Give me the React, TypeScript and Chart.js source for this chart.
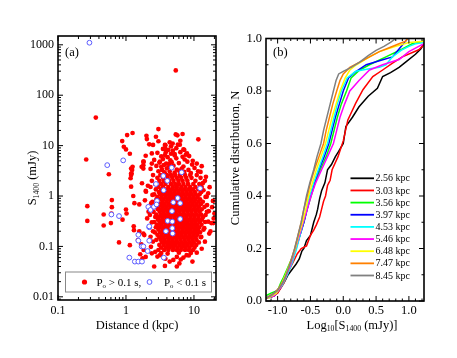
import React, { useEffect, useRef } from 'react';
import { Chart, registerables } from 'chart.js';
Chart.register(...registerables);

const FONT = '"Liberation Serif", "Times New Roman", Times, serif';

// ---------- Panel (a): S1400 vs distance ----------
const distTicks = [0.1, 1, 10];
const fluxTicks = [0.01, 0.1, 1, 10, 100, 1000];

// isolated red points [d (kpc), S1400 (mJy)]
const redScattered: [number, number][] = [
  [5.4, 310], [0.36, 36], [0.26, 5.3],
  [1.25, 17.8], [1.04, 16.2], [0.88, 12.3], [0.93, 9.5], [1.0, 8.4], [1.14, 6.9], [1.19, 3.5], [1.19, 2.8], [1.17, 2.25], [0.56, 2.7],
  [3.0, 21.3], [2.0, 15.7], [2.03, 13.5], [2.76, 15], [5.4, 16.7], [5.7, 16], [6.8, 17], [11.6, 13.3],
  [2.5, 10.3], [2.2, 10.6], [3.74, 10.3], [3.8, 8.6], [3.85, 7.4], [3.74, 6.5], [4.86, 11], [6.2, 10.4],
  [4.9, 8], [5.2, 6.8], [7.2, 8.2], [7.6, 6.6], [1.95, 6.3], [2.4, 7.0], [1.8, 4.8], [2.4, 4.4], [3.16, 4.8], [3.3, 3.8], [4.4, 4.4],
  [1.8, 4.1], [1.8, 3.5],
  [3.0, 3.1], [3.7, 2.95], [4.4, 3.05], [5.2, 2.9], [6.1, 3.15], [7.2, 3.0], [9.0, 2.85], [11.5, 3.1],
  [2.3, 3.45], [3.4, 3.3], [4.0, 3.55], [5.6, 3.35], [6.6, 3.5], [8.3, 3.3], [10.2, 3.6],
  [2.8, 3.95], [3.6, 4.1], [4.3, 3.8], [5.0, 4.0], [7.0, 3.85], [9.4, 4.2], [13, 3.9],
  [3.1, 4.6], [3.9, 4.4], [4.7, 4.7], [6.0, 4.5], [8.0, 4.8], [11, 4.4],
  [2.6, 5.2], [3.5, 5.4], [4.5, 5.1], [5.5, 5.6], [7.3, 5.3], [9.6, 5.0],
  [3.3, 6.1], [4.1, 5.9], [5.2, 6.4], [6.8, 6.0], [8.5, 6.2],
  [2.9, 7.2], [4.6, 6.9], [6.3, 7.4], [7.9, 7.0],
  [3.5, 8.6], [4.2, 8.2], [5.5, 8.9], [7.0, 8.4],
  [3.8, 10.2], [4.6, 9.7], [5.8, 10.5],
  [3.0, 12.2], [4.4, 11.6], [6.3, 12.5],
  // left fringe
  [1.21, 2.8], [1.7, 3.8], [1.82, 4.8], [1.97, 1.22], [1.19, 1.53], [1.72, 1.79], [1.3, 0.25], [1.57, 0.2], [1.8, 0.18],
  [1.62, 0.07], [1.82, 0.085], [1.75, 0.058], [1.5, 0.134], [1.14, 0.106], [1.02, 0.45], [1.33, 0.72], [0.89, 0.34],
  [2.15, 0.49], [1.28, 1.0], [1.57, 0.68], [1.95, 1.26], [1.19, 2.6], [1.23, 3.3], [1.31, 0.21], [1.68, 0.11], [1.86, 0.168],
  [2.33, 0.098], [1.95, 0.062], [0.27, 0.63], [0.27, 0.32], [0.47, 0.43], [0.47, 0.26], [0.62, 0.83], [0.62, 0.6],
  [0.61, 0.45], [0.6, 0.29], [0.79, 0.12], [1.0, 0.54], [1.25, 3.8], [2.05, 0.36], [1.9, 0.82], [2.1, 1.6],
  [2.35, 0.72], [2.4, 0.3], [2.3, 0.155], [2.45, 1.05], [2.25, 0.42], [2.5, 0.2], [2.38, 0.58], [2.5, 0.125],
  // bottom
  [3.74, 0.041], [6.1, 0.046], [4.97, 0.054], [7.8, 0.067], [3.16, 0.067], [2.4, 0.073], [2.6, 0.04], [5.6, 0.04],
  [4.4, 0.05], [3.3, 0.074], [4.1, 0.072], [6.0, 0.075], [9.0, 0.074], [2.9, 0.063], [5.6, 0.062], [7.0, 0.06],
  [8.4, 0.066], [3.8, 0.057], [6.4, 0.055], [9.5, 0.05], [11, 0.075], [2.7, 0.078],
  // right fringe
  [19.2, 0.29], [16.2, 1.13], [13.5, 1.8], [15.4, 0.97], [16.2, 0.31], [18, 0.29], [16.8, 0.18], [14.5, 0.124],
  [13, 0.09], [20, 0.45], [18.5, 0.6], [17, 1.5], [19, 0.8], [15, 2.4], [17.5, 0.2], [12.5, 3.0], [19.5, 0.36],
  [14.8, 0.42], [15.6, 0.66], [14.2, 0.23], [13.8, 1.3], [16.5, 0.5], [12.8, 0.155],
];

// dense core of red points: [S1400, distances at that level]
const redRows: [number, number[]][] = [
  [2.6, [2.5, 3.2, 4.0, 4.6, 5.3, 6.2, 7.4, 8.8, 11]],
  [2.3, [2.9, 3.5, 4.1, 4.8, 5.6, 6.5, 7.7, 9.2, 12.5]],
  [2.0, [2.4, 3.1, 3.6, 4.3, 5.0, 5.9, 6.8, 8.0, 10.5, 14.5]],
  [1.73, [2.7, 3.3, 3.8, 4.6, 5.3, 6.0, 7.0, 8.2, 9.8, 12]],
  [1.51, [2.3, 3.0, 3.5, 4.2, 4.9, 5.6, 6.5, 7.5, 8.8, 10.5, 13]],
  [1.35, [2.75, 3.3, 3.75, 4.3, 4.9, 5.6, 6.4, 7.3, 8.4, 9.7, 11.6]],
  [1.2, [3.05, 3.5, 4.0, 4.55, 5.2, 5.95, 6.8, 7.8, 8.95, 10.3, 12.8]],
  [1.08, [2.6, 3.2, 3.65, 4.15, 4.75, 5.4, 6.15, 7.05, 8.1, 9.2, 10.6, 12.1]],
  [0.96, [2.9, 3.35, 3.85, 4.4, 5.0, 5.75, 6.55, 7.5, 8.6, 9.85, 11.3, 14.8]],
  [0.86, [2.8, 3.1, 3.55, 4.1, 4.65, 5.3, 6.1, 7.0, 8.0, 9.15, 10.5, 12.3]],
  [0.77, [2.45, 3.0, 3.45, 3.95, 4.5, 5.15, 5.9, 6.75, 7.7, 8.85, 10.1, 11.6, 13.5]],
  [0.69, [2.85, 3.25, 3.7, 4.25, 4.85, 5.55, 6.35, 7.25, 8.3, 9.5, 10.9, 12.6]],
  [0.61, [2.65, 3.05, 3.5, 4.0, 4.6, 5.25, 6.0, 6.9, 7.9, 9.0, 10.3, 11.8, 14.3]],
  [0.545, [2.95, 3.35, 3.85, 4.4, 5.05, 5.75, 6.6, 7.55, 8.65, 9.9, 11.3, 13.0]],
  [0.485, [2.55, 3.15, 3.6, 4.1, 4.7, 5.4, 6.15, 7.05, 8.05, 9.2, 10.6, 12.1, 15.5]],
  [0.43, [2.8, 3.3, 3.75, 4.3, 4.9, 5.6, 6.45, 7.35, 8.45, 9.65, 11.0, 12.7]],
  [0.385, [2.7, 3.05, 3.5, 4.0, 4.55, 5.2, 5.95, 6.85, 7.8, 8.95, 10.2, 11.7, 13.6]],
  [0.34, [2.95, 3.4, 3.9, 4.45, 5.1, 5.8, 6.65, 7.6, 8.7, 9.95, 11.4, 13.1]],
  [0.305, [2.6, 3.15, 3.6, 4.15, 4.75, 5.4, 6.2, 7.1, 8.1, 9.3, 10.6, 12.2, 14.6]],
  [0.27, [2.85, 3.3, 3.8, 4.35, 4.95, 5.65, 6.5, 7.4, 8.5, 9.7, 11.1, 12.9]],
  [0.24, [2.75, 3.1, 3.55, 4.05, 4.65, 5.3, 6.05, 6.95, 7.95, 9.1, 10.4, 11.9]],
  [0.215, [3.0, 3.45, 3.95, 4.5, 5.15, 5.9, 6.75, 7.7, 8.8, 10.1, 11.5, 13.8]],
  [0.19, [2.65, 3.2, 3.65, 4.2, 4.8, 5.45, 6.25, 7.15, 8.2, 9.4, 10.7, 12.3]],
  [0.17, [2.9, 3.35, 3.85, 4.4, 5.0, 5.75, 6.55, 7.5, 8.6, 9.8, 11.2]],
  [0.152, [3.1, 3.55, 4.1, 4.65, 5.3, 6.1, 7.0, 8.0, 9.15, 10.5, 12.6]],
  [0.135, [2.8, 3.25, 3.7, 4.25, 4.85, 5.55, 6.35, 7.3, 8.35, 9.55, 10.9]],
  [0.12, [3.4, 3.9, 4.45, 5.1, 5.8, 6.65, 7.6, 8.7, 9.9, 11.8]],
  [0.107, [3.1, 3.6, 4.15, 4.75, 5.4, 6.2, 7.1, 8.1, 9.3, 10.8]],
  [0.095, [3.3, 3.85, 4.4, 5.0, 5.75, 6.6, 7.5, 8.6, 10.2]],
  [0.085, [3.0, 3.65, 4.2, 4.9, 5.6, 6.4, 7.4, 8.4, 9.7]],
];

const bluePoints: [number, number][] = [
  [0.29, 1100], [0.53, 4.1], [0.91, 5.1], [3.54, 2.5], [4.7, 3.65], [6.6, 2.95], [0.61, 0.43], [0.79, 0.4],
  [1.12, 0.06], [1.35, 0.05], [1.52, 0.05], [1.72, 0.05], [1.52, 0.17], [1.52, 0.13], [1.7, 0.1], [2.08, 0.081],
  [2.2, 0.13], [2.2, 0.24], [2.13, 0.61], [2.3, 0.53], [2.58, 0.61], [2.86, 0.8], [2.82, 0.68], [2.76, 1.73],
  [4.05, 2.0], [3.58, 1.3], [4.1, 0.32], [4.8, 0.31], [4.75, 0.5], [4.97, 0.75], [5.76, 0.91], [6.27, 0.72],
  [6.27, 0.35], [4.8, 0.23], [4.86, 0.18], [3.87, 0.2], [3.6, 0.06], [12.3, 1.42], [2.2, 0.25], [1.8, 0.1],
];

// ---------- Panel (b): cumulative distributions ----------
const logTicks = [-1, -0.5, 0, 0.5, 1];
const cumTicks = [0, 0.2, 0.4, 0.6, 0.8, 1];
const distLabels = ['2.56 kpc', '3.03 kpc', '3.56 kpc', '3.97 kpc', '4.53 kpc', '5.46 kpc', '6.48 kpc', '7.47 kpc', '8.45 kpc'];
const lineColors = ['#000000', '#ff0000', '#00ff00', '#0000ff', '#00ffff', '#ff00ff', '#ffff00', '#ff8000', '#808080'];

const cdf256: [number, number][] = [
  [-1.18, 0.01], [-1.1, 0.015], [-1.05, 0.02], [-0.98, 0.04], [-0.93, 0.06], [-0.88, 0.08], [-0.84, 0.1], [-0.78, 0.12],
  [-0.72, 0.14], [-0.67, 0.16], [-0.63, 0.19], [-0.6, 0.2], [-0.56, 0.23], [-0.5, 0.25], [-0.47, 0.28], [-0.45, 0.3],
  [-0.41, 0.33], [-0.39, 0.35], [-0.36, 0.39], [-0.33, 0.42], [-0.28, 0.45], [-0.24, 0.5], [-0.18, 0.52], [-0.12, 0.55],
  [-0.07, 0.57], [0.0, 0.6], [0.04, 0.665], [0.14, 0.7], [0.24, 0.74], [0.38, 0.78], [0.52, 0.81], [0.6, 0.855],
  [0.72, 0.87], [0.85, 0.89], [0.95, 0.91], [1.1, 0.94], [1.18, 0.96], [1.23, 0.98],
];
const cdf303: [number, number][] = [
  [-1.18, 0.01], [-1.08, 0.02], [-1.0, 0.03], [-0.95, 0.05], [-0.9, 0.07], [-0.86, 0.1], [-0.8, 0.13], [-0.76, 0.15],
  [-0.7, 0.18], [-0.64, 0.2], [-0.56, 0.21], [-0.5, 0.25], [-0.45, 0.27], [-0.41, 0.29], [-0.36, 0.32], [-0.33, 0.35],
  [-0.3, 0.38], [-0.27, 0.4], [-0.24, 0.44], [-0.2, 0.46], [-0.17, 0.5], [-0.08, 0.55], [0.0, 0.61], [0.07, 0.69],
  [0.19, 0.754], [0.3, 0.805], [0.45, 0.855], [0.6, 0.88], [0.75, 0.906], [0.9, 0.93], [1.15, 0.957], [1.23, 0.976],
];
const cdf356: [number, number][] = [
  [-1.18, 0.02], [-1.1, 0.03], [-1.0, 0.04], [-0.95, 0.07], [-0.91, 0.09], [-0.84, 0.13], [-0.77, 0.17], [-0.71, 0.21],
  [-0.66, 0.25], [-0.6, 0.3], [-0.55, 0.35], [-0.49, 0.4], [-0.43, 0.45], [-0.35, 0.5], [-0.26, 0.55], [-0.19, 0.6],
  [-0.14, 0.65], [-0.09, 0.7], [-0.03, 0.75], [0.05, 0.8], [0.12, 0.85], [0.25, 0.88], [0.4, 0.9], [0.65, 0.93],
  [0.9, 0.96], [1.05, 0.98], [1.23, 0.99],
];
const cdf397: [number, number][] = [
  [-1.18, 0.01], [-1.05, 0.03], [-0.97, 0.05], [-0.87, 0.1], [-0.79, 0.15], [-0.72, 0.2], [-0.66, 0.25], [-0.6, 0.3],
  [-0.55, 0.35], [-0.5, 0.4], [-0.44, 0.45], [-0.37, 0.5], [-0.29, 0.55], [-0.22, 0.6], [-0.17, 0.65], [-0.12, 0.7],
  [-0.06, 0.75], [0.0, 0.8], [0.08, 0.85], [0.17, 0.87], [0.35, 0.9], [0.55, 0.915], [0.75, 0.93], [0.85, 0.96],
  [0.95, 0.99], [0.98, 1.0],
];
const cdf453: [number, number][] = [
  [-1.15, 0.01], [-1.02, 0.03], [-0.93, 0.06], [-0.85, 0.1], [-0.77, 0.15], [-0.71, 0.2], [-0.66, 0.25], [-0.61, 0.3],
  [-0.56, 0.35], [-0.51, 0.4], [-0.45, 0.45], [-0.38, 0.5], [-0.31, 0.55], [-0.24, 0.6], [-0.19, 0.65], [-0.14, 0.7],
  [-0.09, 0.75], [-0.03, 0.8], [0.06, 0.85], [0.19, 0.875], [0.4, 0.885], [0.55, 0.89], [0.65, 0.9], [0.75, 0.93],
  [0.88, 0.955], [1.0, 0.97], [1.1, 0.98], [1.23, 0.985],
];
const cdf546: [number, number][] = [
  [-1.18, 0.01], [-1.05, 0.02], [-0.96, 0.05], [-0.88, 0.09], [-0.8, 0.14], [-0.74, 0.19], [-0.68, 0.24], [-0.62, 0.29],
  [-0.56, 0.34], [-0.49, 0.4], [-0.42, 0.45], [-0.33, 0.5], [-0.24, 0.55], [-0.15, 0.6], [-0.1, 0.65], [-0.05, 0.7],
  [0.02, 0.75], [0.1, 0.8], [0.24, 0.84], [0.4, 0.88], [0.6, 0.9], [0.85, 0.92], [1.0, 0.95], [1.15, 0.97], [1.23, 0.98],
];
const cdf648: [number, number][] = [
  [-1.15, 0.01], [-1.02, 0.03], [-0.95, 0.06], [-0.88, 0.1], [-0.8, 0.15], [-0.73, 0.2], [-0.68, 0.25], [-0.62, 0.3],
  [-0.57, 0.35], [-0.53, 0.4], [-0.47, 0.45], [-0.41, 0.5], [-0.34, 0.55], [-0.27, 0.6], [-0.22, 0.65], [-0.17, 0.7],
  [-0.11, 0.75], [-0.05, 0.8], [0.03, 0.85], [0.1, 0.88], [0.2, 0.9], [0.4, 0.93], [0.55, 0.95], [0.8, 0.97],
  [1.0, 0.985], [1.23, 0.99],
];
const cdf747: [number, number][] = [
  [-1.18, 0.01], [-1.05, 0.03], [-0.98, 0.05], [-0.9, 0.08], [-0.84, 0.12], [-0.79, 0.16], [-0.74, 0.2], [-0.69, 0.25],
  [-0.64, 0.3], [-0.6, 0.35], [-0.55, 0.4], [-0.5, 0.45], [-0.44, 0.5], [-0.37, 0.55], [-0.3, 0.6], [-0.26, 0.65],
  [-0.21, 0.7], [-0.16, 0.75], [-0.1, 0.8], [-0.05, 0.84], [0.0, 0.865], [0.1, 0.89], [0.25, 0.91], [0.4, 0.93],
  [0.55, 0.95], [0.7, 0.965], [0.85, 0.98], [0.95, 0.99], [0.98, 1.0],
];
const cdf845: [number, number][] = [
  [-1.18, 0.01], [-1.1, 0.02], [-1.0, 0.04], [-0.92, 0.07], [-0.87, 0.1], [-0.8, 0.15], [-0.74, 0.2], [-0.69, 0.25],
  [-0.64, 0.3], [-0.6, 0.35], [-0.56, 0.4], [-0.51, 0.45], [-0.45, 0.5], [-0.4, 0.55], [-0.34, 0.6], [-0.3, 0.65],
  [-0.25, 0.7], [-0.2, 0.75], [-0.15, 0.8], [-0.11, 0.84], [-0.07, 0.865], [0.0, 0.875], [0.12, 0.89], [0.25, 0.91],
  [0.38, 0.935], [0.5, 0.955], [0.62, 0.97], [0.72, 0.985], [0.8, 1.0],
];
const cdfSeries = [cdf256, cdf303, cdf356, cdf397, cdf453, cdf546, cdf648, cdf747, cdf845];

// ---------- helpers ----------
type Seg = [string, boolean?];

function drawRich(ctx: CanvasRenderingContext2D, segs: Seg[], x: number, y: number, size: number, align: 'left' | 'center') {
  const subSize = size * 0.62;
  let w = 0;
  for (const [t, sub] of segs) {
    ctx.font = `${sub ? subSize : size}px ${FONT}`;
    w += ctx.measureText(t).width;
  }
  let cx = align === 'center' ? x - w / 2 : x;
  ctx.textAlign = 'left';
  ctx.textBaseline = 'alphabetic';
  for (const [t, sub] of segs) {
    ctx.font = `${sub ? subSize : size}px ${FONT}`;
    ctx.fillText(t, cx, sub ? y + size * 0.22 : y);
    cx += ctx.measureText(t).width;
  }
}

function logMinors(lo: number, hi: number): number[] {
  const out: number[] = [];
  for (let e = -3; e <= 3; e++) {
    const base = Math.pow(10, e);
    for (let k = 2; k <= 9; k++) {
      const v = k * base;
      if (v > lo && v < hi) out.push(v);
    }
  }
  return out;
}

function drawFrame(chart: any, xMaj: number[], xMin: number[], yMaj: number[], yMin: number[], maj: number, min: number) {
  const { ctx, chartArea: a } = chart;
  const sx = chart.scales.x, sy = chart.scales.y;
  ctx.save();
  ctx.strokeStyle = '#000';
  ctx.lineWidth = 1;
  ctx.beginPath();
  const xt = (v: number, len: number) => {
    const p = sx.getPixelForValue(v);
    ctx.moveTo(p, a.bottom); ctx.lineTo(p, a.bottom - len);
    ctx.moveTo(p, a.top); ctx.lineTo(p, a.top + len);
  };
  const yt = (v: number, len: number) => {
    const p = sy.getPixelForValue(v);
    ctx.moveTo(a.left, p); ctx.lineTo(a.left + len, p);
    ctx.moveTo(a.right, p); ctx.lineTo(a.right - len, p);
  };
  xMaj.forEach(v => xt(v, maj));
  xMin.forEach(v => xt(v, min));
  yMaj.forEach(v => yt(v, maj));
  yMin.forEach(v => yt(v, min));
  ctx.stroke();
  ctx.lineWidth = 1.6;
  ctx.strokeRect(a.left, a.top, a.right - a.left, a.bottom - a.top);
  ctx.restore();
}

const A_XMIN = 0.1, A_XMAX = 21.1, A_YMIN = 0.00865, A_YMAX = 1495;
const B_XMIN = -1.177, B_XMAX = 1.23;

const panelAPlugin = {
  id: 'panelA',
  afterDatasetsDraw(chart: any) {
    const ctx: CanvasRenderingContext2D = chart.ctx;
    const a = chart.chartArea;
    drawFrame(chart, distTicks, logMinors(A_XMIN, A_XMAX), fluxTicks, logMinors(A_YMIN, A_YMAX), 5, 3);
    ctx.save();
    ctx.fillStyle = '#000';
    drawRich(ctx, [['(a)']], a.left + 7, a.top + 20, 12.5, 'left');
    drawRich(ctx, [['Distance d (kpc)']], a.left + 79, 328.5, 12.5, 'center');
    ctx.save();
    ctx.translate(36, 178);
    ctx.rotate(-Math.PI / 2);
    drawRich(ctx, [['S'], ['1400', true], [' (mJy)']], 0, 0, 12.5, 'center');
    ctx.restore();
    // legend box
    const lx = 65.5, ly = 272, lw = 146, lh = 20;
    ctx.fillStyle = '#fff';
    ctx.fillRect(lx, ly, lw, lh);
    ctx.strokeStyle = '#888';
    ctx.lineWidth = 1;
    ctx.strokeRect(lx, ly, lw, lh);
    ctx.fillStyle = '#ff0000';
    ctx.beginPath(); ctx.arc(84.5, 282, 2.6, 0, Math.PI * 2); ctx.fill();
    ctx.strokeStyle = '#5b5bff';
    ctx.fillStyle = '#fff';
    ctx.beginPath(); ctx.arc(149.5, 282, 2.4, 0, Math.PI * 2); ctx.fill(); ctx.stroke();
    ctx.fillStyle = '#000';
    drawRich(ctx, [['P'], ['o', true], [' > 0.1 s,']], 96.5, 285.5, 11, 'left');
    drawRich(ctx, [['P'], ['o', true], [' < 0.1 s']], 164, 285.5, 11, 'left');
    ctx.restore();
  },
};

const panelBPlugin = {
  id: 'panelB',
  afterDatasetsDraw(chart: any) {
    const ctx: CanvasRenderingContext2D = chart.ctx;
    const a = chart.chartArea;
    const minorX: number[] = [];
    for (let k = -11; k <= 12; k++) if (k % 5 !== 0) minorX.push(k / 10);
    drawFrame(chart, logTicks, minorX, cumTicks, [0.1, 0.3, 0.5, 0.7, 0.9], 5, 2.5);
    ctx.save();
    ctx.fillStyle = '#000';
    drawRich(ctx, [['(b)']], a.left + 7, a.top + 17, 12.5, 'left');
    drawRich(ctx, [['Log'], ['10', true], ['[S'], ['1400', true], [' (mJy)]']], a.left + 86, 328.5, 12.5, 'center');
    ctx.save();
    ctx.translate(a.left - 27, 158);
    ctx.rotate(-Math.PI / 2);
    drawRich(ctx, [['Cumulative distribution, N']], 0, 0, 12.5, 'center');
    ctx.restore();
    // legend
    const ds = chart.data.datasets;
    const x0 = a.left + 84.5, x1 = a.left + 108, ty0 = 178.3, step = 12.15;
    ds.forEach((d: any, i: number) => {
      const y = ty0 + i * step;
      ctx.strokeStyle = d.borderColor;
      ctx.lineWidth = 1.8;
      ctx.beginPath(); ctx.moveTo(x0, y); ctx.lineTo(x1, y); ctx.stroke();
      ctx.fillStyle = '#000';
      ctx.font = `10px ${FONT}`;
      ctx.textAlign = 'left';
      ctx.textBaseline = 'middle';
      ctx.fillText(d.label, x1 + 1.5, y + 0.5);
    });
    ctx.restore();
  },
};

const tickFont = (size: number) => ({ family: FONT, size });

export default function App() {
  const refA = useRef<HTMLCanvasElement>(null);
  const refB = useRef<HTMLCanvasElement>(null);

  useEffect(() => {
    const redPoints = [
      ...redScattered,
      ...redRows.flatMap(([s, ds]) => ds.map(d => [d, s] as [number, number])),
    ];
    const chartA = new Chart(refA.current!, {
      type: 'scatter',
      data: {
        datasets: [
          {
            label: 'Po < 0.1 s',
            data: bluePoints.map(([x, y]) => ({ x, y })),
            pointRadius: 2.4,
            pointBackgroundColor: '#ffffff',
            pointBorderColor: '#5b5bff',
            pointBorderWidth: 1,
            order: 0,
          },
          {
            label: 'Po > 0.1 s',
            data: redPoints.map(([x, y]) => ({ x, y })),
            pointRadius: 2.35,
            pointBackgroundColor: '#ff0000',
            pointBorderColor: '#ff0000',
            pointBorderWidth: 0,
            order: 1,
          },
        ],
      },
      options: {
        responsive: false,
        animation: false,
        events: [],
        layout: { padding: { left: 0, top: 36, right: 8, bottom: 0 } },
        plugins: { legend: { display: false }, tooltip: { enabled: false } },
        scales: {
          x: {
            type: 'logarithmic', min: A_XMIN, max: A_XMAX, bounds: 'data',
            grid: { display: false, drawTicks: false }, border: { display: false },
            ticks: { font: tickFont(12), color: '#000', padding: 4, maxRotation: 0, autoSkip: false, callback: (v: any) => String(v) },
            afterBuildTicks: (s: any) => { s.ticks = distTicks.map(v => ({ value: v })); },
            afterFit: (s: any) => { s.height = 58; },
          },
          y: {
            type: 'logarithmic', min: A_YMIN, max: A_YMAX, bounds: 'data',
            grid: { display: false, drawTicks: false }, border: { display: false },
            ticks: { font: tickFont(12), color: '#000', padding: 4, autoSkip: false, callback: (v: any) => String(v) },
            afterBuildTicks: (s: any) => { s.ticks = fluxTicks.map(v => ({ value: v })); },
            afterFit: (s: any) => { s.width = 58; },
          },
        },
      } as any,
      plugins: [panelAPlugin],
    });

    const chartB = new Chart(refB.current!, {
      type: 'scatter',
      data: {
        datasets: cdfSeries.map((pts, i) => ({
          label: distLabels[i],
          data: pts.map(([x, y]) => ({ x, y })),
          showLine: true,
          borderColor: lineColors[i],
          backgroundColor: lineColors[i],
          borderWidth: 1.5,
          pointRadius: 0,
          tension: 0,
          fill: false,
          order: 8 - i,
        })),
      },
      options: {
        responsive: false,
        animation: false,
        events: [],
        layout: { padding: { left: 0, top: 38.5, right: 33, bottom: 0 } },
        plugins: { legend: { display: false }, tooltip: { enabled: false } },
        scales: {
          x: {
            type: 'linear', min: B_XMIN, max: B_XMAX, bounds: 'data',
            grid: { display: false, drawTicks: false }, border: { display: false },
            ticks: { font: tickFont(12.5), color: '#000', padding: 2, maxRotation: 0, autoSkip: false, callback: (v: any) => Number(v).toFixed(1) },
            afterBuildTicks: (s: any) => { s.ticks = logTicks.map(v => ({ value: v })); },
            afterFit: (s: any) => { s.height = 57; },
          },
          y: {
            type: 'linear', min: 0, max: 1, bounds: 'data',
            grid: { display: false, drawTicks: false }, border: { display: false },
            ticks: { font: tickFont(12.5), color: '#000', padding: 4, autoSkip: false, callback: (v: any) => Number(v).toFixed(1) },
            afterBuildTicks: (s: any) => { s.ticks = cumTicks.map(v => ({ value: v })); },
            afterFit: (s: any) => { s.width = 42; },
          },
        },
      } as any,
      plugins: [panelBPlugin],
    });

    return () => { chartA.destroy(); chartB.destroy(); };
  }, []);

  return (
    <div style={{ position: 'absolute', left: 0, top: 0, width: 457, height: 358, background: '#fff' }}>
      <canvas ref={refA} width={224} height={358} style={{ position: 'absolute', left: 0, top: 0, width: 224, height: 358 }} />
      <canvas ref={refB} width={233} height={358} style={{ position: 'absolute', left: 224, top: 0, width: 233, height: 358 }} />
    </div>
  );
}
